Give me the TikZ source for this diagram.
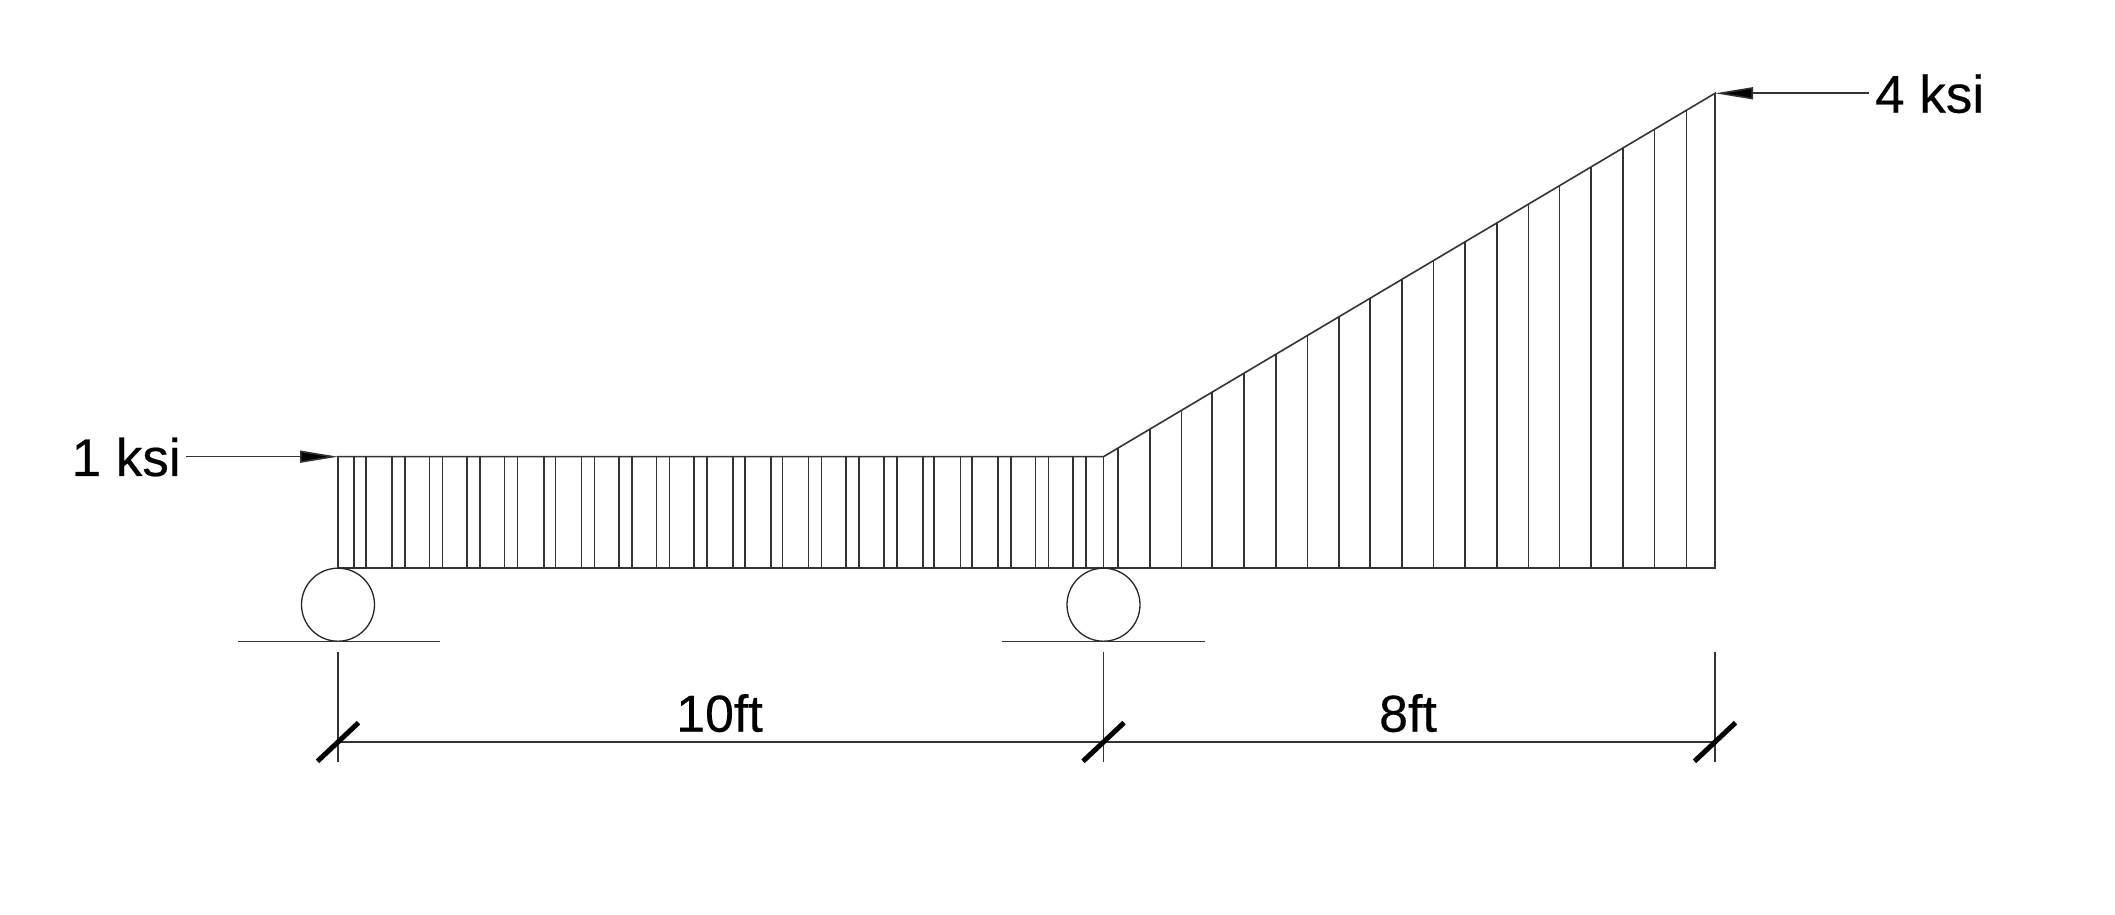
\documentclass[tikz,border=0pt]{standalone}
\usepackage{fontspec}
\setmainfont{Liberation Sans}[FakeBold=0.35]
\newfontfamily\labelfont{Liberation Sans}[FakeBold=0.35]
\usetikzlibrary{arrows.meta,shapes.geometric}
\tikzset{
    thinline/.style={draw=black!80,line width=1.6pt},
    tickline/.style={draw=black,line width=5pt},
    loadarrow/.style={thinline,-{Triangle[length=38pt,width=12pt,fill=black]}},
    roller/.style={circle,draw=black!85,line width=1.3pt,minimum size=73pt,inner sep=0pt},
    dimtext/.style={inner sep=0pt,anchor=base,font=\labelfont\fontsize{52}{60}\selectfont},
    loadtext/.style={inner sep=0pt,anchor=base west,font=\labelfont\fontsize{53}{60}\selectfont},
}
\begin{document}
\begin{tikzpicture}[x=1pt,y=1pt]
        \useasboundingbox (0,0) rectangle (2115,915);
        \coordinate (topA) at (338,458.3);
        \coordinate (topB) at (1103.5,458.3);
        \coordinate (topC) at (1715,821.7);
        \coordinate (baseA) at (338,347);
        \coordinate (baseC) at (1715,347);
        % load outline
        \draw[thinline] (baseA)--(topA)--(topB)--(topC)--(baseC)--cycle;
        % hatch under the flat part
        \foreach \x in {354,365.7,391.7,404.7,429.3,442.3,467,480,504.3,517.3,543.7,555.3,581.3,594.3,619,632,656.3,669.3,694,707,733,744.7,770.7,782.3,808.3,821.3,846,859,883.7,896.7,922.7,934,960.3,971.7,998,1010.7,1035.3,1048.3,1073,1086,1103.5}
            \draw[thinline] (\x,347)--(\x,458.3);
        % hatch under the slope
        \foreach \x in {1118,1149.7,1181.5,1212,1244,1275.7,1307.3,1339,1370,1401.7,1433.3,1465,1497,1528.3,1559.3,1591,1622.7,1654.3,1686.3}
            \draw[thinline] (\x,347)--(\x,{458.3+(\x-1103.5)*0.5943});
        % supports
        \node[roller] (rollerA) at (338,310.3) {};
        \node[roller] (rollerB) at (1103.5,310.3) {};
        \coordinate (groundAl) at (237.7,273.3);
        \coordinate (groundAr) at (440,273.3);
        \coordinate (groundBl) at (1001.7,273.3);
        \coordinate (groundBr) at (1205,273.3);
        \draw[thinline] (groundAl)--(groundAr);
        \draw[thinline] (groundBl)--(groundBr);
        % load labels
        \node[loadtext] (loadA) at (71.5,439) {1 ksi};
        \node[loadtext] (loadC) at (1875,802.3) {4 ksi};
        \draw[loadarrow] (186,458.3)--(topA);
        \draw[loadarrow] (1869,821.7)--(topC);
        % dimensions
        \coordinate (dimA) at (338,173);
        \coordinate (dimB) at (1103.5,173);
        \coordinate (dimC) at (1715,173);
        \draw[thinline] (dimA)--(dimC);
        \foreach \p in {dimA,dimB,dimC}{
            \draw[thinline] ([yshift=90.3pt]\p)--([yshift=-19.7pt]\p);
            \draw[tickline] ([shift={(-20.5pt,-19.3pt)}]\p)--([shift={(20.5pt,19.3pt)}]\p);
        }
        \node[dimtext] (spanA) at (719.5,183.3) {10ft};
        \node[dimtext] (spanB) at (1408,183.3) {8ft};
    \end{tikzpicture}
\end{document}
